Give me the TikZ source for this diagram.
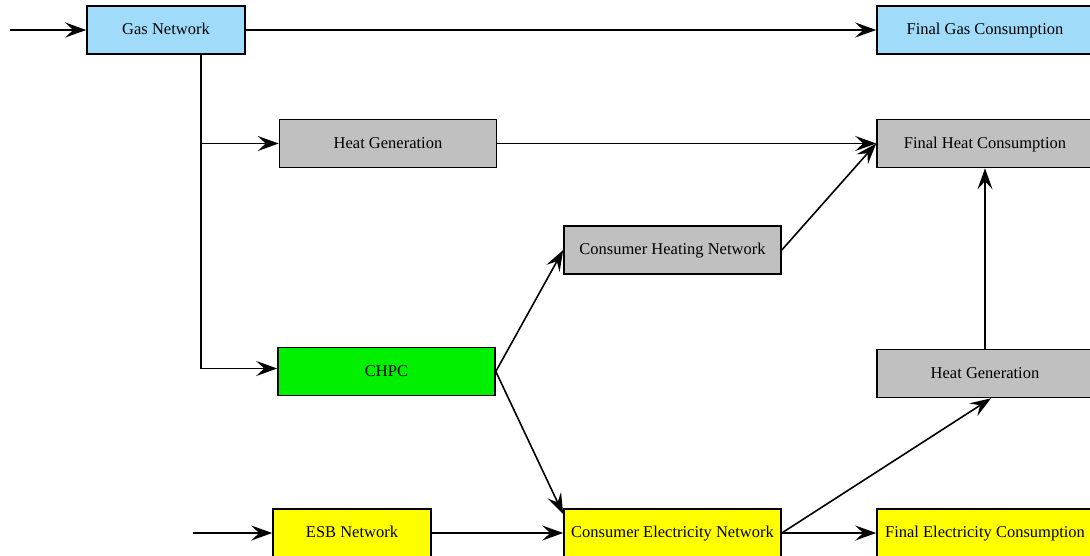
\documentclass[tikz,border=0pt]{standalone}
\usepackage{fontspec}
\setmainfont{Liberation Serif}
\usetikzlibrary{arrows.meta,calc}
\definecolor{gasblue}{RGB}{160,220,250}
\definecolor{heatgray}{RGB}{192,192,192}
\definecolor{chpgreen}{RGB}{0,240,0}
\definecolor{elecyellow}{RGB}{255,255,0}
\begin{document}
\begin{tikzpicture}[x=1pt,y=-1pt,
  box/.style={draw=black, line width=1.6pt, inner sep=0pt, anchor=center,
    text height=11pt, text depth=2pt,
    font=\fontsize{16.5}{18}\selectfont},
  wide/.style={box, minimum width=217pt, minimum height=48pt},
  narrow/.style={box, minimum width=158pt, minimum height=48pt},
  flow/.style={line width=1.6pt, -{Stealth[length=21pt,width=15pt,inset=8pt]}}]
\path[use as bounding box, clip] (0,0) rectangle (1090,555);

% gas side
\node[narrow, fill=gasblue] (gas) at (166,30) {Gas Network};
\node[wide, fill=gasblue, minimum width=216pt] (fgas) at (985,30) {Final Gas Consumption};
\node[wide, fill=heatgray] (heat1) at (388,143.5) {Heat Generation};
\node[wide, fill=heatgray, minimum width=216pt] (fheat) at (985,143.5) {Final Heat Consumption};
\node[wide, fill=heatgray] (chn) at (672.5,250) {Consumer Heating Network};
\node[wide, fill=chpgreen] (chpc) at (386.5,371.5) {CHPC};
\node[wide, fill=heatgray, minimum width=216pt] (heat2) at (985,373.5) {Heat Generation};

% electricity side
\node[narrow, fill=elecyellow] (esb) at (352,533) {ESB Network};
\node[wide, fill=elecyellow] (cen) at (672.5,533) {Consumer Electricity Network};
\node[wide, fill=elecyellow, minimum width=216pt] (fel) at (985,533) {Final Electricity Consumption};

% free ends and the gas branch point
\coordinate (gin) at (10,30);
\coordinate (ein) at (193,533);
\coordinate (gtap) at ($(gas.south)+(35,0)$);

% connectors
\draw[flow] (gin) -- (gas.west);
\draw[flow] (gas.east) -- (fgas.west);
\draw[flow] (gtap) |- (heat1.west);
\draw[flow] (gtap) |- ($(chpc.west)+(0,-3)$);
\draw[flow] (heat1.east) -- (fheat.west);
\draw[flow] (chn.east) -- (fheat.west);
\draw[flow] (chpc.east) -- (chn.west);
\draw[flow] (chpc.east) -- ($(cen.north west)+(0,6)$);
\draw[flow] (ein) -- (esb.west);
\draw[flow] (esb.east) -- (cen.west);
\draw[flow] (heat2.north) -- (fheat.south);
\draw[flow] (cen.east) -- ($(heat2.south)+(6,0)$);
\draw[flow] (cen.east) -- (fel.west);
\end{tikzpicture}
\end{document}
